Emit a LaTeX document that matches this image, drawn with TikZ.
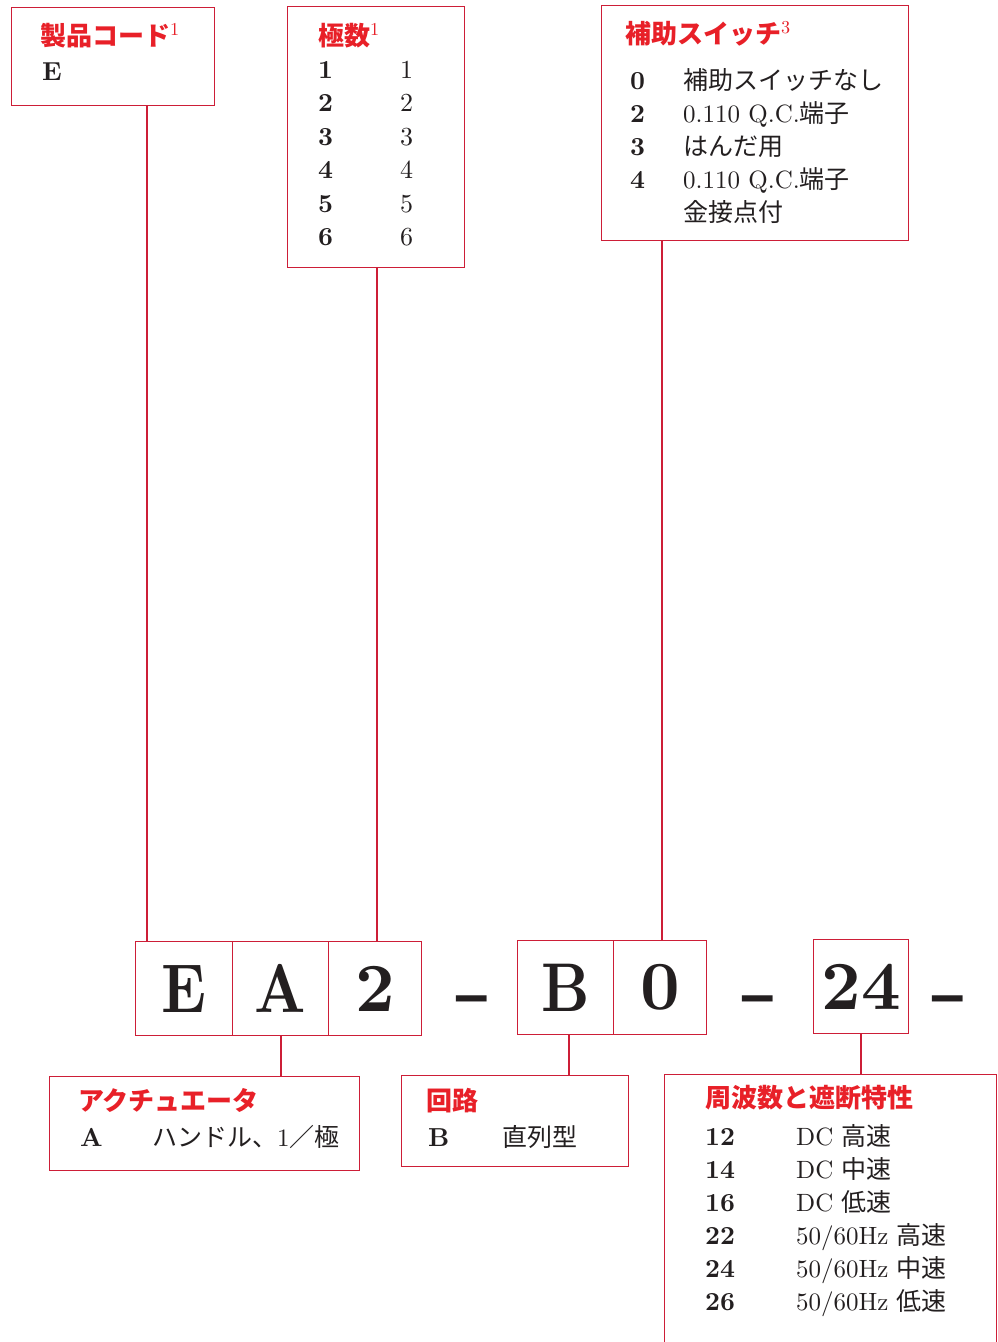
\documentclass[tikz,border=0pt]{standalone}
\usepackage{fontspec}
\setmainfont{lmroman10-regular.otf}[BoldFont=lmroman10-bold.otf, ItalicFont=lmroman10-italic.otf]
\newfontfamily\cjk{Noto Sans CJK JP}
\newfontfamily\dashfont{Liberation Sans}
\newcommand{\jp}[1]{{\cjk #1}}
\definecolor{boxred}{RGB}{205,30,55}
\definecolor{titlered}{RGB}{232,32,40}
\definecolor{ink}{RGB}{35,31,32}
\tikzset{
  frame/.style={draw=boxred, line width=1.4pt, inner sep=0pt, anchor=north west},
  link/.style={draw=boxred, line width=1.4pt},
  ttl/.style={anchor=base west, inner sep=0pt, text=titlered, font=\fontsize{26}{30}\selectfont\cjk\bfseries},
  num/.style={anchor=base west, inner sep=0pt, text=ink, font=\fontsize{26}{30}\selectfont\bfseries},
  txt/.style={anchor=base west, inner sep=0pt, text=ink, font=\fontsize{25}{30}\selectfont},
  cell/.style={draw=boxred, line width=1.4pt, inner sep=0pt, anchor=north west, text=ink,
     font=\fontsize{69}{70}\selectfont\bfseries},
  sep/.style={anchor=base, inner sep=0pt, text=ink, font=\fontsize{62}{62}\selectfont\dashfont\bfseries}
}
\newcommand{\cond}[1]{\scalebox{0.86}[1]{#1}}
\begin{document}
\begin{tikzpicture}[x=1pt,y=-1pt]
\useasboundingbox[fill=white] (0,0) rectangle (998,1342);

% top boxes
\node[frame, minimum width=203pt, minimum height=98pt] (b1) at (11,7) {};
\node[ttl] (b1t) at (40,45) {製品コード\textsuperscript{\rmfamily\mdseries 1}};
\node[num] (b1e) at (42,80) {E};

\node[frame, minimum width=177pt, minimum height=261pt] (b2) at (287,6) {};
\node[ttl] (b2t) at (318,45) {極数\textsuperscript{\rmfamily\mdseries 1}};
\foreach \d [count=\i from 0] in {1,...,6} {
  \node[num] (b2l\d) at (318,78+33.5*\i) {\d};
  \node[txt, font=\fontsize{26}{30}\selectfont] (b2r\d) at (400,78+33.5*\i) {\d};
}

\node[frame, minimum width=307pt, minimum height=235pt] (b3) at (601,5) {};
\node[ttl] (b3t) at (625,43) {補助スイッチ\textsuperscript{\rmfamily\mdseries 3}};
\node[num] (b3n0) at (630,89) {0};
\node[txt] (b3x0) at (683,89) {\jp{補助スイッチなし}};
\node[num] (b3n2) at (630,122) {2};
\node[txt] (b3x2) at (683,122) {0.110 Q.C.\jp{端子}};
\node[num] (b3n3) at (630,155) {3};
\node[txt] (b3x3) at (683,155) {\jp{はんだ用}};
\node[num] (b3n4) at (630,188) {4};
\node[txt] (b3x4) at (683,188) {0.110 Q.C.\jp{端子}};
\node[txt] (b3x5) at (683,221) {\jp{金接点付}};

% code cells
\node[cell, minimum width=97pt, minimum height=94pt] (cE) at (135,941) {\cond{E}};
\node[cell, minimum width=96pt, minimum height=94pt] (cA) at (232,941) {\cond{A}};
\node[cell, minimum width=93pt, minimum height=94pt] (c2) at (328,941) {2};
\node[sep] (d1) at (472,1015) {–};
\node[cell, minimum width=96pt, minimum height=94pt] (cB) at (517,940) {\cond{B}};
\node[cell, minimum width=93pt, minimum height=94pt] (c0) at (613,940) {0};
\node[sep] (d2) at (758,1015) {–};
\node[cell, minimum width=95pt, minimum height=94pt] (c24) at (813,939) {24};
\node[sep] (d3) at (948,1015) {–};

% bottom boxes
\node[frame, minimum width=310pt, minimum height=94pt] (b4) at (49,1076) {};
\node[ttl] (b4t) at (78,1110) {アクチュエータ};
\node[num] (b4n) at (80,1146) {A};
\node[txt] (b4x) at (152,1146) {\jp{ハンドル、}1\jp{／極}};

\node[frame, minimum width=227pt, minimum height=91pt] (b5) at (401,1075) {};
\node[ttl] (b5t) at (426,1110) {回路};
\node[num] (b5n) at (428,1146) {B};
\node[txt] (b5x) at (502,1146) {\jp{直列型}};

\node[frame, minimum width=332pt, minimum height=290pt] (b6) at (664,1074) {};
\node[ttl] (b6t) at (705,1107) {周波数と遮断特性};
\foreach \n/\t [count=\i from 0] in {12/{DC \jp{高速}},14/{DC \jp{中速}},16/{DC \jp{低速}},22/{50/60Hz \jp{高速}},24/{50/60Hz \jp{中速}},26/{50/60Hz \jp{低速}}} {
  \node[num] (b6n\n) at (705,1145+33*\i) {\n};
  \node[txt] (b6x\n) at (796,1145+33*\i) {\t};
}

% connectors
\coordinate (p1) at (147,0);
\coordinate (p2) at (377,0);
\coordinate (p3) at (662,0);
\coordinate (q1) at (281,0);
\coordinate (q2) at (569,0);
\coordinate (q3) at (861,0);
\draw[link] (p1 |- b1.south) -- (p1 |- cE.north);
\draw[link] (p2 |- b2.south) -- (p2 |- c2.north);
\draw[link] (p3 |- b3.south) -- (p3 |- c0.north);
\draw[link] (q1 |- cA.south) -- (q1 |- b4.north);
\draw[link] (q2 |- cB.south) -- (q2 |- b5.north);
\draw[link] (q3 |- c24.south) -- (q3 |- b6.north);
\end{tikzpicture}
\end{document}
